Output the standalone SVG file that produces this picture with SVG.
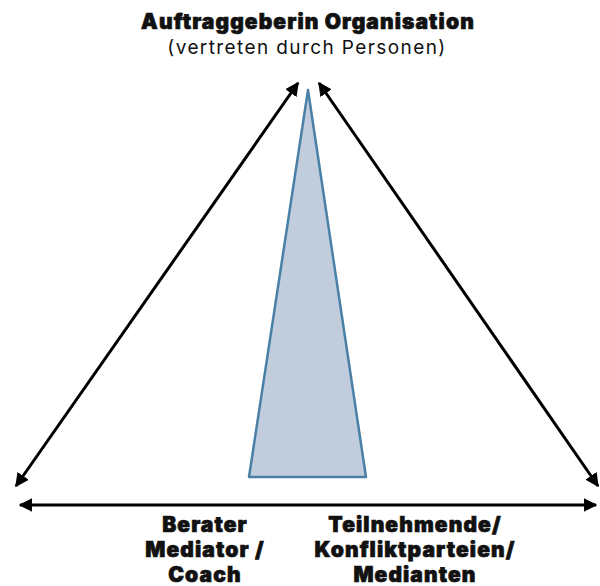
<svg xmlns="http://www.w3.org/2000/svg" width="600" height="586" viewBox="0 0 600 586">
<style>
.t{font-family:Inter,"Liberation Sans",sans-serif;fill:#111;text-anchor:middle}
.b{font-weight:900;font-size:21px;letter-spacing:1.1px;stroke:#111;stroke-width:0.7px}
.n{font-weight:400;font-size:19px;letter-spacing:1.4px}
.c{stroke:#000;stroke-width:3;fill:none}
</style>
<defs>
<marker id="ah" viewBox="0 0 10 10" refX="9" refY="5" markerWidth="4.6" markerHeight="4.6" orient="auto-start-reverse" markerUnits="strokeWidth">
<path d="M0,0 L10,5 L0,10 z" fill="#000"/>
</marker>
</defs>
<g id="top">
<text class="t b" x="308" y="29">Auftraggeberin Organisation</text>
<text class="t n" x="307" y="54">(vertreten durch Personen)</text>
</g>
<g id="triangle">
<polygon points="308,90 249,477 366,477" fill="#c1ccdd" stroke="#4a80a6" stroke-width="2.5" stroke-linejoin="round"/>
</g>
<g id="connectors">
<line class="c" x1="16" y1="486" x2="298" y2="83" marker-start="url(#ah)" marker-end="url(#ah)"/>
<line class="c" x1="319" y1="83" x2="598" y2="486" marker-start="url(#ah)" marker-end="url(#ah)"/>
<line class="c" x1="20" y1="505" x2="596" y2="505" marker-start="url(#ah)" marker-end="url(#ah)"/>
</g>
<g id="left">
<text class="t b" x="205" y="532">Berater</text>
<text class="t b" x="205" y="557">Mediator /</text>
<text class="t b" x="205" y="582">Coach</text>
</g>
<g id="right">
<text class="t b" x="415" y="532">Teilnehmende/</text>
<text class="t b" x="415" y="557">Konfliktparteien/</text>
<text class="t b" x="415" y="582">Medianten</text>
</g>
</svg>
